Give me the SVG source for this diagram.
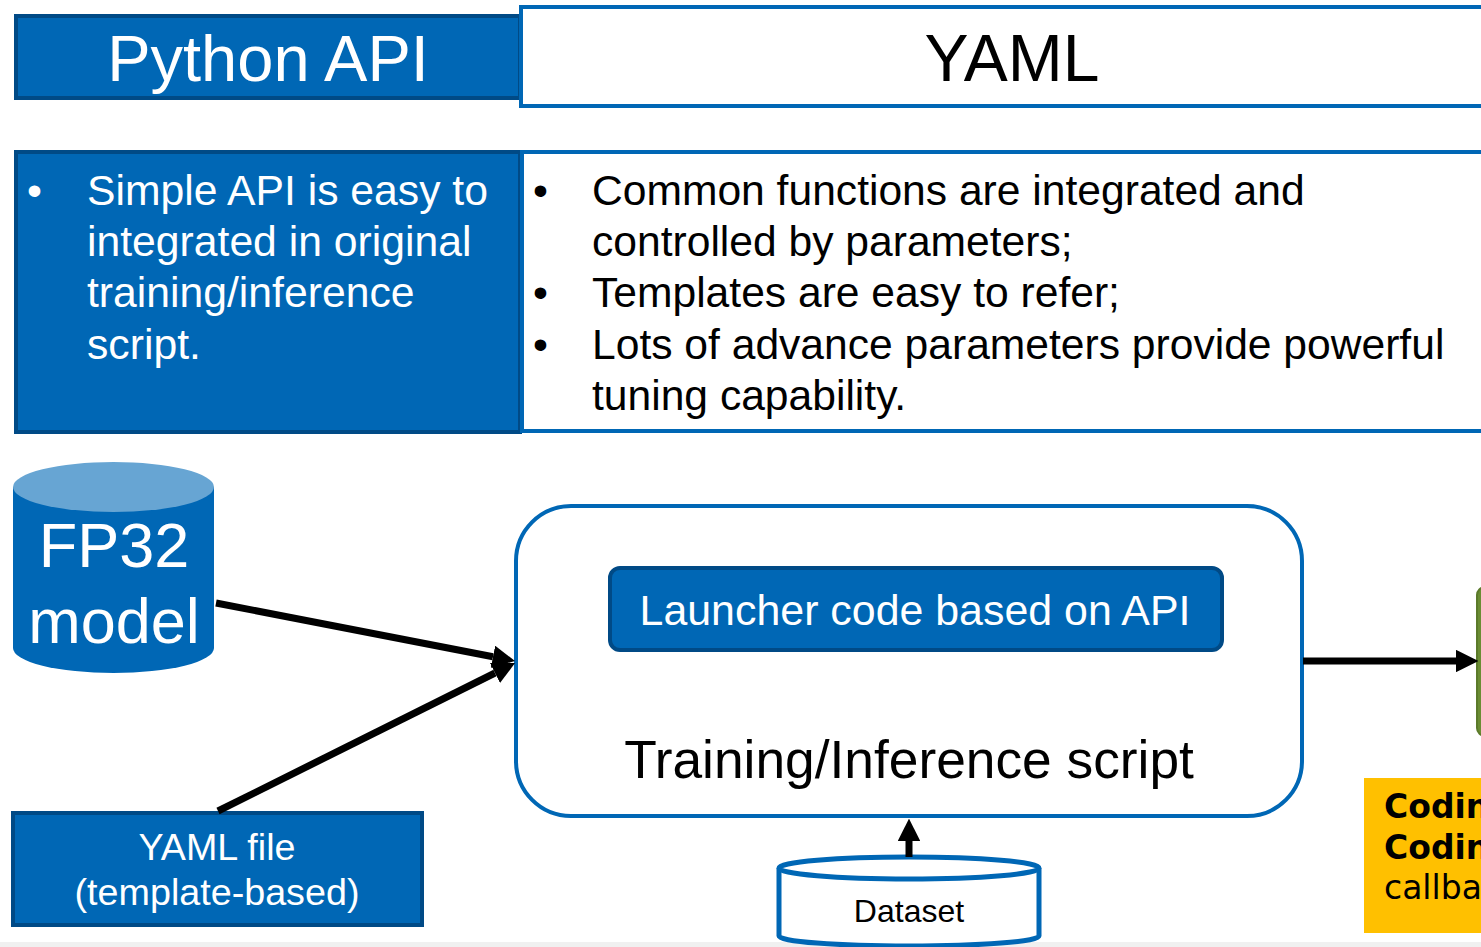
<svg xmlns="http://www.w3.org/2000/svg" width="1481" height="947" viewBox="0 0 1481 947">
<style>
.t{font-family:"Liberation Sans",Arial,sans-serif}
.w{fill:#ffffff}
.k{fill:#000000}
.blue{fill:#0067b5;stroke:#004a86;stroke-width:4}
.outline{fill:#ffffff;stroke:#0067b5;stroke-width:4}
.conn{stroke:#000;stroke-width:7;fill:none}
</style>
<defs>
<marker id="ah" viewBox="0 0 10 10" refX="0" refY="5" markerWidth="3.2" markerHeight="3.2" orient="auto" markerUnits="strokeWidth">
<path d="M0,0 L10,5 L0,10 Z" fill="#000"/>
</marker>
</defs>
<rect x="0" y="0" width="1481" height="947" fill="#ffffff"/>
<rect x="0" y="942" width="1481" height="5" fill="#f0f0f0"/>

<g id="header-python">
<rect class="blue" x="16" y="16" width="504" height="82"/>
<text class="t w" x="268" y="81" font-size="65" text-anchor="middle">Python API</text>
</g>
<g id="header-yaml">
<rect class="outline" x="521" y="7" width="980" height="99"/>
<text class="t k" x="1012" y="81" font-size="66" text-anchor="middle">YAML</text>
</g>

<g id="desc-python">
<rect class="blue" x="16" y="152" width="504" height="280"/>
<g class="t w" font-size="42.7">
<text x="27" y="205">•</text>
<text x="87" y="205">Simple API is easy to</text>
<text x="87" y="256">integrated in original</text>
<text x="87" y="307">training/inference</text>
<text x="87" y="359">script.</text>
</g>
</g>
<g id="desc-yaml">
<rect class="outline" x="522" y="152" width="980" height="279"/>
<g class="t k" font-size="42.6">
<text x="533" y="205">•</text>
<text x="592" y="205">Common functions are integrated and</text>
<text x="592" y="256">controlled by parameters;</text>
<text x="533" y="307">•</text>
<text x="592" y="307">Templates are easy to refer;</text>
<text x="533" y="359">•</text>
<text x="592" y="359">Lots of advance parameters provide powerful</text>
<text x="592" y="410">tuning capability.</text>
</g>
</g>

<g id="fp32-model">
<path d="M13,487 L13,648 A100.5,25 0 0 0 214,648 L214,487 Z" fill="#0067b5"/>
<ellipse cx="113.5" cy="487" rx="100.5" ry="25" fill="#67a5d3"/>
<text class="t w" x="114" y="567" font-size="63" text-anchor="middle">FP32</text>
<text class="t w" x="114" y="643" font-size="63" text-anchor="middle">model</text>
</g>

<g id="yaml-file">
<rect class="blue" x="13" y="813" width="409" height="112"/>
<text class="t w" x="217" y="860" font-size="37.7" text-anchor="middle">YAML file</text>
<text class="t w" x="217" y="905" font-size="37.7" text-anchor="middle">(template-based)</text>
</g>

<g id="script">
<rect x="516" y="506" width="786" height="310" rx="55" ry="55" fill="#ffffff" stroke="#0067b5" stroke-width="4"/>
<text class="t k" x="909" y="778" font-size="53.3" text-anchor="middle">Training/Inference script</text>
</g>
<g id="launcher">
<rect x="610" y="568" width="612" height="82" rx="10" ry="10" class="blue"/>
<text class="t w" x="915" y="625" font-size="42.9" text-anchor="middle">Launcher code based on API</text>
</g>

<g id="dataset">
<path d="M779,868 L779,936 A130,10 0 0 0 1039,936 L1039,868" fill="#ffffff" stroke="#0067b5" stroke-width="5"/>
<ellipse cx="909" cy="868" rx="130" ry="11" fill="#ffffff" stroke="#0067b5" stroke-width="5"/>
<text class="t k" x="909" y="922" font-size="32" text-anchor="middle">Dataset</text>
</g>

<g id="output-box">
<rect x="1477" y="587" width="40" height="149" rx="8" ry="8" fill="#6a8c33" stroke="#5b7a2a" stroke-width="2"/>
</g>

<g id="note">
<rect x="1364" y="778" width="130" height="155" fill="#ffc000"/>
<g font-family="'DejaVu Sans','Noto Sans',sans-serif" font-size="33" fill="#000">
<text x="1384" y="818" font-weight="bold">Codin</text>
<text x="1384" y="859" font-weight="bold">Codin</text>
<text x="1384" y="899">callba</text>
</g>
</g>

<g id="connectors">
<line class="conn" x1="216" y1="603" x2="493" y2="656.7" marker-end="url(#ah)"/>
<line class="conn" x1="218" y1="811" x2="495" y2="673" marker-end="url(#ah)"/>
<line class="conn" x1="1303" y1="661" x2="1456" y2="661" marker-end="url(#ah)"/>
<line class="conn" x1="909" y1="857" x2="909" y2="841" marker-end="url(#ah)"/>
</g>
</svg>
